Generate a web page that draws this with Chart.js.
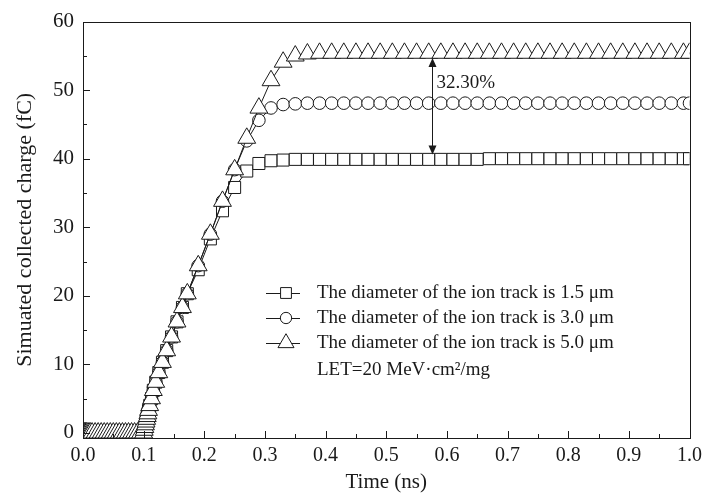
<!DOCTYPE html>
<html><head><meta charset="utf-8">
<script src="https://cdn.jsdelivr.net/npm/chart.js@4/dist/chart.umd.min.js"></script>
<style>html,body{margin:0;padding:0;background:#fff;} #wrap{width:708px;height:497px;}</style>
</head><body><div id="wrap"><canvas id="c" width="708" height="497"></canvas></div>
<script>
const timeNs = [0, 0.001, 0.002, 0.003, 0.004, 0.005, 0.006, 0.008, 0.01, 0.012, 0.015, 0.02, 0.025, 0.03, 0.035, 0.04, 0.045, 0.05, 0.055, 0.06, 0.065, 0.07, 0.075, 0.08, 0.085, 0.09, 0.095, 0.1,
  0.101, 0.102, 0.103, 0.104, 0.105, 0.106, 0.107, 0.108, 0.11, 0.113, 0.116, 0.12, 0.125, 0.131, 0.138, 0.146, 0.155, 0.164, 0.172,
  0.19, 0.21, 0.23, 0.25, 0.27, 0.29, 0.31, 0.33, 0.35, 0.37, 0.39, 0.41, 0.43, 0.45, 0.47, 0.49, 0.51, 0.53, 0.55, 0.57, 0.59, 0.61, 0.63, 0.65, 0.67, 0.69, 0.71, 0.73, 0.75, 0.77, 0.79, 0.81, 0.83, 0.85, 0.87, 0.89, 0.91, 0.93, 0.95, 0.97, 0.99, 1.0];

const charge15 = [0,0,0,0,0,0,0,0,0,0, 0,0,0,0,0,0,0,0,0,0, 0,0,0,0,0,0,0,0,
  0.4,0.8,1.2,1.6,2.0,2.4,2.8,3.3,4.0,5.0,6.2,7.4,8.8,10.3,12.0,14.0,16.2,18.3,20.3,
  23.8,28.3,32.4,35.8,38.2,39.3,39.7,39.8,39.9,39.9, 39.9,39.9,39.9,39.9,39.9,39.9,39.9,39.9,39.9,39.9,
  39.9,39.9,39.9,39.9,40.0,40.0,40.0,40.0,40.0,40.0, 40.0,40.0,40.0,40.0,40.0,40.0,40.0,40.0,40.0,40.0, 40.0,40.0];

const charge30 = [0,0,0,0,0,0,0,0,0,0, 0,0,0,0,0,0,0,0,0,0, 0,0,0,0,0,0,0,0,
  0.4,0.8,1.2,1.6,2.0,2.4,2.8,3.3,4.0,5.0,6.2,7.4,8.8,10.3,12.0,14.0,16.2,18.3,20.3,
  24.4,29.0,33.8,38.4,42.6,45.6,47.4,47.9,48.0,48.1, 48.1,48.1,48.1,48.1,48.1,48.1,48.1,48.1,48.1,48.1,
  48.1,48.1,48.1,48.1,48.1,48.1,48.1,48.1,48.1,48.1, 48.1,48.1,48.1,48.1,48.1,48.1,48.1,48.1,48.1,48.1, 48.1,48.1];

const charge50 = [0,0,0,0,0,0,0,0,0,0, 0,0,0,0,0,0,0,0,0,0, 0,0,0,0,0,0,0,0,
  0.4,0.8,1.2,1.6,2.0,2.4,2.8,3.3,4.0,5.0,6.2,7.4,8.8,10.3,12.0,14.0,16.2,18.3,20.3,
  24.4,29.0,33.8,38.4,43.0,47.4,51.4,54.1,55.0,55.3, 55.4,55.4,55.4,55.4,55.4,55.4,55.4,55.4,55.4,55.4,
  55.4,55.4,55.4,55.4,55.4,55.4,55.4,55.4,55.4,55.4, 55.4,55.4,55.4,55.4,55.4,55.4,55.4,55.4,55.4,55.4, 55.4,55.4];

const seriesLabels = ['The diameter of the ion track is 1.5 μm', 'The diameter of the ion track is 3.0 μm', 'The diameter of the ion track is 5.0 μm'];
const xTicks = [0, 0.1, 0.2, 0.3, 0.4, 0.5, 0.6, 0.7, 0.8, 0.9, 1.0];
const yTicks = [0, 10, 20, 30, 40, 50, 60];
const xTitle = 'Time (ns)';
const yTitle = 'Simuated collected charge (fC)';
const noteText = 'LET=20 MeV·cm²/mg';
const gapText = '32.30%';
const gapX = 0.575, gapTop = 54.7, gapBottom = 40.6;
const gapTextX = 0.583, gapTextY = 51.0;

const FONT = "'Liberation Serif', 'Times New Roman', serif";
const INK = '#1a1a1a';

function pts(ys) { return timeNs.map((t, i) => ({x: t, y: ys[i]})); }

const styles = [
  {pointStyle: 'rect', radius: 8.5},
  {pointStyle: 'circle', radius: 6.3},
  {pointStyle: 'triangle', radius: 10.3}
];

function marker(ctx, style, r, x, y) {
  ctx.beginPath();
  if (style === 'rect') {
    const s = r * Math.SQRT1_2;
    ctx.rect(x - s, y - s, 2 * s, 2 * s);
  } else if (style === 'circle') {
    ctx.arc(x, y, r, 0, Math.PI * 2);
  } else {
    let rad = 0;
    ctx.moveTo(x + Math.sin(rad) * r, y - Math.cos(rad) * r);
    rad += Math.PI * 2 / 3;
    ctx.lineTo(x + Math.sin(rad) * r, y - Math.cos(rad) * r);
    rad += Math.PI * 2 / 3;
    ctx.lineTo(x + Math.sin(rad) * r, y - Math.cos(rad) * r);
    ctx.closePath();
  }
  ctx.fillStyle = '#fff'; ctx.fill();
  ctx.strokeStyle = INK; ctx.lineWidth = 1; ctx.stroke();
}

const overlay = {
  id: 'overlay',
  afterDatasetsDraw(chart) {
    const ctx = chart.ctx, a = chart.chartArea;
    const xs = chart.scales.x, ys = chart.scales.y;
    ctx.save();
    ctx.strokeStyle = INK; ctx.lineWidth = 1;
    ctx.strokeRect(Math.round(a.left) + 0.5, Math.round(a.top) + 0.5, Math.round(a.right - a.left), Math.round(a.bottom - a.top));
    ctx.beginPath();
    for (let i = 0; i < xTicks.length; i++) {
      const px = Math.round(xs.getPixelForValue(xTicks[i])) + 0.5;
      ctx.moveTo(px, a.bottom); ctx.lineTo(px, a.bottom - 7);
      if (i < xTicks.length - 1) {
        const pm = Math.round(xs.getPixelForValue((xTicks[i] + xTicks[i + 1]) / 2)) + 0.5;
        ctx.moveTo(pm, a.bottom); ctx.lineTo(pm, a.bottom - 4);
      }
    }
    for (let i = 0; i < yTicks.length; i++) {
      const py = Math.round(ys.getPixelForValue(yTicks[i])) + 0.5;
      ctx.moveTo(a.left, py); ctx.lineTo(a.left + 7, py);
      if (i < yTicks.length - 1) {
        const pm = Math.round(ys.getPixelForValue((yTicks[i] + yTicks[i + 1]) / 2)) + 0.5;
        ctx.moveTo(a.left, pm); ctx.lineTo(a.left + 4, pm);
      }
    }
    ctx.stroke();

    const ax = Math.round(xs.getPixelForValue(gapX)) + 0.5;
    const y1 = ys.getPixelForValue(gapTop), y2 = ys.getPixelForValue(gapBottom);
    ctx.beginPath(); ctx.moveTo(ax, y1 + 6); ctx.lineTo(ax, y2 - 6); ctx.stroke();
    ctx.fillStyle = INK;
    ctx.beginPath(); ctx.moveTo(ax, y1); ctx.lineTo(ax - 4, y1 + 9); ctx.lineTo(ax + 4, y1 + 9); ctx.closePath(); ctx.fill();
    ctx.beginPath(); ctx.moveTo(ax, y2); ctx.lineTo(ax - 4, y2 - 9); ctx.lineTo(ax + 4, y2 - 9); ctx.closePath(); ctx.fill();
    ctx.font = '19px ' + FONT; ctx.textBaseline = 'middle'; ctx.textAlign = 'left';
    ctx.fillText(gapText, xs.getPixelForValue(gapTextX), ys.getPixelForValue(gapTextY));

    const rows = [293, 318, 343];
    chart.data.datasets.forEach((ds, i) => {
      const y = rows[i];
      ctx.strokeStyle = INK; ctx.lineWidth = 1;
      ctx.beginPath(); ctx.moveTo(266, y + 0.5); ctx.lineTo(300, y + 0.5); ctx.stroke();
      marker(ctx, styles[i].pointStyle, styles[i].radius * 0.9, 286, y);
      ctx.fillStyle = INK;
      ctx.fillText(ds.label, 317, y);
    });
    ctx.fillText(noteText, 317, 370);
    ctx.restore();
  }
};

new Chart(document.getElementById('c'), {
  type: 'line',
  plugins: [overlay],
  data: {
    datasets: [charge15, charge30, charge50].map((d, i) => ({
      label: seriesLabels[i],
      data: pts(d),
      borderColor: INK, borderWidth: 1,
      pointStyle: styles[i].pointStyle, pointRadius: styles[i].radius,
      pointBackgroundColor: '#fff', pointBorderColor: INK, pointBorderWidth: 1,
      fill: false, tension: 0, order: 2 - i
    }))
  },
  options: {
    responsive: false, animation: false,
    layout: {padding: {top: 17, right: 16, left: 0, bottom: 0}},
    plugins: {legend: {display: false}, tooltip: {enabled: false}},
    scales: {
      x: {
        type: 'linear', min: 0, max: 1,
        afterBuildTicks: s => { s.ticks = xTicks.map(v => ({value: v})); },
        afterFit: s => { s.height = 59; },
        grid: {display: false, drawTicks: false}, border: {display: false},
        ticks: {color: INK, padding: 6, font: {family: FONT, size: 20}, callback: v => Number(v).toFixed(1), maxRotation: 0},
        title: {display: true, text: xTitle, color: INK, font: {family: FONT, size: 21}, padding: {top: 0, bottom: 2}}
      },
      y: {
        type: 'linear', min: -0.75, max: 60,
        afterBuildTicks: s => { s.ticks = yTicks.map(v => ({value: v})); },
        afterFit: s => { s.width = 83; },
        grid: {display: false, drawTicks: false}, border: {display: false},
        ticks: {color: INK, padding: 9, font: {family: FONT, size: 21}, callback: v => String(v)},
        title: {display: true, text: yTitle, color: INK, font: {family: FONT, size: 22}, padding: {top: 12, bottom: 0}}
      }
    }
  }
});
</script></body></html>
